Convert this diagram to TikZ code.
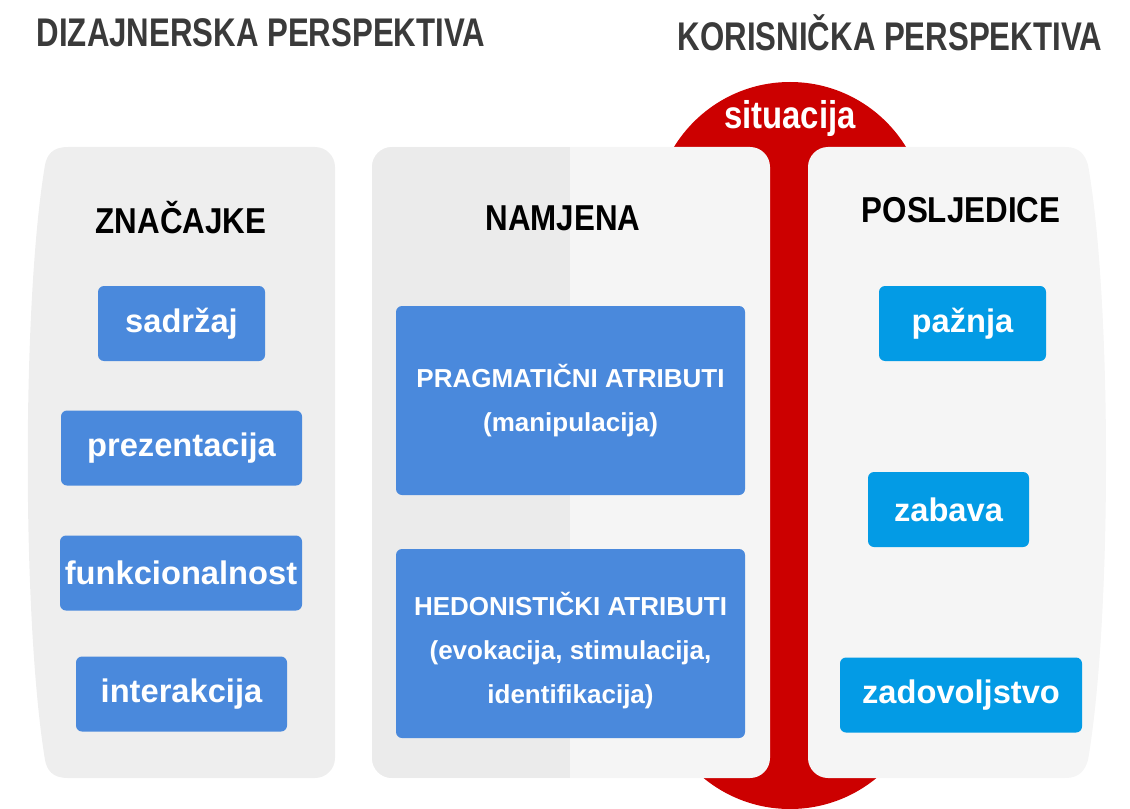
\documentclass[tikz,border=0pt]{standalone}
\usepackage{fontspec}
\setmainfont{Liberation Sans}
\newfontfamily\titlefont[FakeStretch=0.78]{Liberation Sans}
\newfontfamily\headfont[FakeStretch=0.87]{Liberation Sans}
\newfontfamily\sitfont[FakeStretch=0.85]{Liberation Sans}
\definecolor{lblue}{HTML}{4A89DC}
\definecolor{rblue}{HTML}{039BE5}
\definecolor{redc}{HTML}{CC0000}
\definecolor{pgray}{HTML}{EEEEEE}
\definecolor{pgraytwo}{HTML}{EBEBEB}
\definecolor{plight}{HTML}{F5F5F5}
\definecolor{ttl}{HTML}{3A3A3A}
\tikzset{
  ttitle/.style={text=ttl, font=\titlefont\bfseries\fontsize{30}{36}\selectfont, inner sep=0},
  thead/.style={text=black, font=\headfont\bfseries\fontsize{27}{32}\selectfont, inner sep=0},
  sbox/.style={fill=lblue, text=white, rounded corners=4.5pt, inner sep=0,
    minimum height=56.25pt, font=\bfseries\fontsize{24.5}{28}\selectfont},
  rbox/.style={sbox, fill=rblue},
  mbox/.style={fill=lblue, text=white, rounded corners=4.5pt, inner sep=0,
    minimum width=261.75pt, minimum height=141.75pt},
  mtext/.style={text=white, inner sep=0, align=center,
    font=\bfseries\fontsize{19.5}{33}\selectfont},
}
\begin{document}
\begin{tikzpicture}[x=0.75pt,y=-0.75pt]
\useasboundingbox (0,0) rectangle (1130,809);
% red situation shape
\begin{scope}
\clip (0,0) rectangle (1130,809);
\fill[redc] (790,218) circle[radius=102pt];
\fill[redc] (790,673) circle[radius=102pt];
\fill[redc] (765,150) rectangle (815,780);
\end{scope}
% left panel
\fill[pgray] (68,147) -- (315,147) .. controls (326,147) and (335,156) .. (335,167)
  -- (335,758) .. controls (335,769) and (326,778) .. (315,778) -- (68,778)
  .. controls (52,778) and (47,770) .. (45,760)
  .. controls (22,620) and (22,300) .. (45,165)
  .. controls (47,155) and (52,147) .. (68,147) -- cycle;
% middle panel
\fill[plight, rounded corners=15pt] (372,147) rectangle (770,778);
\begin{scope}
\clip[rounded corners=15pt] (372,147) rectangle (770,778);
\fill[pgraytwo] (372,147) rectangle (570,778);
\end{scope}
% right panel
\fill[plight] (828,147) -- (1065,147) .. controls (1080,147) and (1085,155) .. (1088,165)
  .. controls (1112,300) and (1112,620) .. (1088,760)
  .. controls (1085,770) and (1080,778) .. (1065,778) -- (828,778)
  .. controls (817,778) and (808,769) .. (808,758) -- (808,167)
  .. controls (808,156) and (817,147) .. (828,147) -- cycle;
% titles
\node[ttitle] (t1) at (261,33) {DIZAJNERSKA PERSPEKTIVA};
\node[ttitle] (t2) at (890,33) {KORISNIČKA PERSPEKTIVA};
\node[text=white, inner sep=0, font=\sitfont\bfseries\fontsize{29}{34}\selectfont] (sit) at (790,119) {situacija};
% headers
\node[thead] (h1) at (181,218) {ZNAČAJKE};
\node[thead] (h2) at (563,218) {NAMJENA};
\node[thead] (h3) at (961,210) {POSLJEDICE};
% left boxes
\node[sbox, minimum width=125.25pt] (b1) at (181.5,323.5) {sadržaj};
\node[sbox, minimum width=180.75pt] (b2) at (181.5,448) {prezentacija};
\node[sbox, minimum width=181.5pt] (b3) at (181,573) {funkcionalnost};
\node[sbox, minimum width=158.25pt] (b4) at (181.5,694) {interakcija};
% middle boxes
\node[mbox] (m1) at (570.5,400.5) {};
\node[mtext] (m1t) at (m1.center) {PRAGMATIČNI ATRIBUTI\\(manipulacija)};
\node[mbox] (m2) at (570.5,643.5) {};
\node[mtext] (m2t) at (570.5,650.5) {HEDONISTIČKI ATRIBUTI\\(evokacija, stimulacija,\\identifikacija)};
% right boxes
\node[rbox, minimum width=125.25pt] (r1) at (962.5,323.5) {pažnja};
\node[rbox, minimum width=120.75pt] (r2) at (948.5,509.5) {zabava};
\node[rbox, minimum width=181.5pt] (r3) at (961,695) {zadovoljstvo};
\end{tikzpicture}
\end{document}
